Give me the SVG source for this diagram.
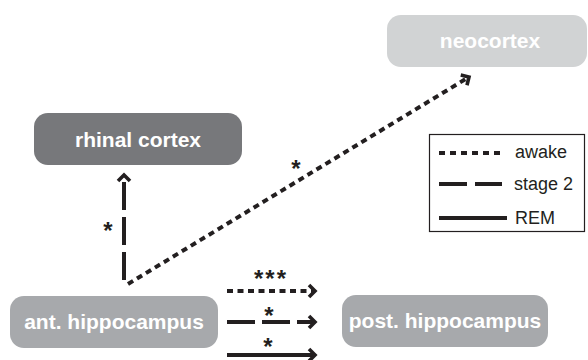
<svg xmlns="http://www.w3.org/2000/svg" width="588" height="360" viewBox="0 0 588 360">
  <defs>
    <style>
      .node-text { font-family: "Liberation Sans", Arial, sans-serif; font-weight: bold; font-size: 21px; fill: #ffffff; text-anchor: middle; }
      .leg-text { font-family: "Liberation Sans", Arial, sans-serif; font-size: 18px; fill: #231f20; }
      .star { font-family: "Liberation Sans", Arial, sans-serif; font-weight: bold; font-size: 24px; fill: #231f20; text-anchor: middle; }
      .ln { fill: none; stroke: #231f20; stroke-width: 4; }
      .dot { stroke-dasharray: 6 4.5; }
      .dash { stroke-dasharray: 28 7; }
    </style>
    <marker id="chev" viewBox="-9 -8 12 16" refX="0" refY="0" markerWidth="12" markerHeight="16" markerUnits="userSpaceOnUse" orient="auto">
      <path d="M-6,-6 L0,0 L-6,6" fill="none" stroke="#231f20" stroke-width="3.6"/>
    </marker>
  </defs>
  <rect width="588" height="360" fill="#ffffff"/>

  <g id="neocortex">
    <rect x="387" y="15" width="200" height="52" rx="14" fill="#d1d3d4"/>
    <text class="node-text" x="490" y="48">neocortex</text>
  </g>
  <g id="rhinal-cortex">
    <rect x="34" y="113" width="208" height="52" rx="14" fill="#77787b"/>
    <text class="node-text" x="138" y="147">rhinal cortex</text>
  </g>
  <g id="ant-hippocampus">
    <rect x="10" y="296" width="208" height="52" rx="14" fill="#a7a9ac"/>
    <text class="node-text" x="114" y="329">ant. hippocampus</text>
  </g>
  <g id="post-hippocampus">
    <rect x="342" y="295" width="206" height="52" rx="14" fill="#a7a9ac"/>
    <text class="node-text" x="445" y="328">post. hippocampus</text>
  </g>

  <g id="connectors">
    <line class="ln dash" x1="124" y1="280" x2="124" y2="175" marker-end="url(#chev)"/>
    <text class="star" x="108" y="239">*</text>
    <line class="ln dot" x1="128" y1="284" x2="469" y2="77" marker-end="url(#chev)"/>
    <text class="star" x="296" y="177">*</text>
    <line class="ln dot" x1="227" y1="291" x2="315" y2="291" marker-end="url(#chev)"/>
    <text class="star" x="271" y="287" letter-spacing="2">***</text>
    <line class="ln dash" x1="227" y1="322" x2="315" y2="322" marker-end="url(#chev)"/>
    <text class="star" x="269" y="324">*</text>
    <line class="ln" x1="227" y1="355" x2="315" y2="355" marker-end="url(#chev)"/>
    <text class="star" x="268" y="355">*</text>
  </g>

  <g id="legend">
    <rect x="429.5" y="134.5" width="155" height="97" fill="#ffffff" stroke="#231f20" stroke-width="1.2"/>
    <line class="ln" x1="439" y1="153" x2="500" y2="153" stroke-dasharray="6 5"/>
    <text class="leg-text" x="515" y="158">awake</text>
    <line class="ln" x1="439" y1="184" x2="502" y2="184" stroke-dasharray="28 8"/>
    <text class="leg-text" x="514" y="190">stage 2</text>
    <line class="ln" x1="439" y1="218" x2="507" y2="218"/>
    <text class="leg-text" x="515" y="224">REM</text>
  </g>
</svg>
